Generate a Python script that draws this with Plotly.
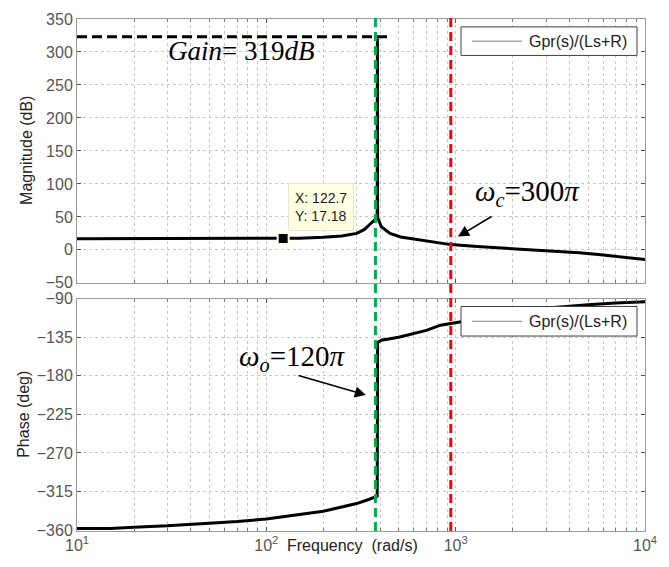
import numpy as np
import plotly.graph_objects as go
from plotly.subplots import make_subplots

# ---------------- data ----------------
mag_freq = [10, 20, 50, 100, 122.7, 150, 200, 250, 300, 330, 356, 385, 386, 387,
            405, 450, 512, 653, 800, 942, 1300, 1729, 2300, 3160, 4500, 5850, 7500, 10000]
mag_db = [17, 17, 17, 17.1, 17.18, 17.6, 19, 21, 25, 31, 40, 49, 321, 49,
          35, 25, 19.5, 14.5, 11, 8, 5, 3, 1, -1.5, -4.5, -7.5, -10.5, -14.5]

ph_freq = [10, 15, 20, 30, 50, 70, 100, 150, 200, 250, 300, 350, 385, 387,
           405, 500, 700, 832, 1000, 1500, 2000, 2800, 4000, 5000, 7000, 10000]
ph_deg = [-358, -358, -356.5, -355, -352, -350, -347, -342, -338, -333, -329, -324, -320.5, -141,
          -138.5, -135, -127, -121, -118, -111, -107, -101.5, -99, -97, -95, -93.5]

tip_x = [122.7]
tip_y = [17.18]

w_o = 120 * np.pi
w_c = 300 * np.pi
gain_line = 323

mag_ticks = [-50, 0, 50, 100, 150, 200, 250, 300, 350]
ph_ticks = [-360, -315, -270, -225, -180, -135, -90]
x_major = [10, 100, 1000, 10000]
x_major_text = ["10<sup>1</sup>", "10<sup>2</sup>", "10<sup>3</sup>", "10<sup>4</sup>"]
x_minor = [m * d for d in [10, 100, 1000] for m in range(2, 10)]

legend_text = "Gpr(s)/(Ls+R)"

# ---------------- figure ----------------
W, H = 669, 567
L, R, T, B = 77, 24, 11, 36
pw, ph = W - L - R, H - T - B

def px(xp):
    return (xp - L) / pw

def py(yp):
    return (H - B - yp) / ph

def fx(f):
    return (np.log10(f) - 1) / 3

fig = make_subplots(rows=2, cols=1, shared_xaxes=False, vertical_spacing=0.03)

fig.add_trace(go.Scatter(x=mag_freq, y=mag_db, mode="lines",
                         line=dict(color="black", width=3), showlegend=False,
                         hoverinfo="skip"), row=1, col=1)
fig.add_trace(go.Scatter(x=ph_freq, y=ph_deg, mode="lines",
                         line=dict(color="black", width=3), showlegend=False,
                         hoverinfo="skip"), row=2, col=1)
fig.add_trace(go.Scatter(x=tip_x, y=tip_y, mode="markers",
                         marker=dict(symbol="square", size=11, color="black",
                                     line=dict(color="#ffffe1", width=2)),
                         showlegend=False, hoverinfo="skip"), row=1, col=1)

tick_font = dict(family="Liberation Sans, Arial", size=16, color="#555555")
grid_common = dict(showgrid=True, gridcolor="#c8c8c8", griddash="dot", gridwidth=1,
                   showline=True, linecolor="#9a9a9a", linewidth=1, mirror="ticks",
                   ticks="inside", ticklen=4, tickcolor="#555555", zeroline=False)

xcommon = dict(type="log", range=[1, 4], tickmode="array", tickvals=x_major,
               ticktext=x_major_text,
               minor=dict(tickvals=x_minor, showgrid=True, gridcolor="#c8c8c8",
                          griddash="dot", ticks="inside", ticklen=3, tickcolor="#777777"),
               tickfont=tick_font, **grid_common)

fig.update_xaxes(**xcommon)
fig.update_xaxes(showticklabels=False, row=1, col=1)
fig.update_xaxes(showticklabels=True, row=2, col=1)

fig.update_yaxes(range=[-50, 350], tickmode="array", tickvals=mag_ticks,
                 tickfont=tick_font, row=1, col=1, **grid_common)
fig.update_yaxes(range=[-361, -90], tickmode="array", tickvals=ph_ticks,
                 tickfont=tick_font, row=2, col=1, **grid_common)

# domains to match reference layout
fig.update_layout(
    yaxis=dict(domain=[py(279), 1.0]),
    yaxis2=dict(domain=[0.0, py(295)]),
)

shapes = []
# vertical resonance / crossover lines spanning both plots
shapes.append(dict(type="line", xref="paper", yref="paper", x0=fx(w_o), x1=fx(w_o),
                   y0=0, y1=py(10), line=dict(color="rgb(0,176,80)", width=3, dash="9px,5px")))
shapes.append(dict(type="line", xref="paper", yref="paper", x0=fx(w_c), x1=fx(w_c),
                   y0=0, y1=py(10), line=dict(color="rgb(255,0,0)", width=3, dash="9px,5px")))
# gain dashed line
shapes.append(dict(type="line", xref="paper", yref="y", x0=0, x1=px(390),
                   y0=gain_line, y1=gain_line, line=dict(color="black", width=3, dash="10px,5px")))
# legend boxes
for (y0p, y1p) in [(19, 48), (303, 333)]:
    shapes.append(dict(type="rect", xref="paper", yref="paper", x0=px(461), x1=px(637),
                       y0=py(y1p), y1=py(y0p), fillcolor="white",
                       line=dict(color="#404040", width=1), layer="above"))
    ym = (y0p + y1p) / 2
    shapes.append(dict(type="line", xref="paper", yref="paper", x0=px(472), x1=px(522),
                       y0=py(ym), y1=py(ym), line=dict(color="#808080", width=1), layer="above"))
fig.update_layout(shapes=shapes)

ann = []
for (y0p, y1p) in [(19, 48), (303, 333)]:
    ym = (y0p + y1p) / 2
    ann.append(dict(text=legend_text, xref="paper", yref="paper", x=px(527), y=py(ym),
                    xanchor="left", yanchor="middle", showarrow=False,
                    font=dict(family="Liberation Sans, Arial", size=16, color="#222222")))

serif = "Liberation Serif, Times New Roman"
ann.append(dict(text="<i>Gain</i>= 319<i>dB</i>", xref="paper", yref="paper",
                x=px(241), y=py(43), xanchor="center", yanchor="middle", showarrow=False,
                font=dict(family=serif, size=27, color="black")))
ann.append(dict(text="<i>ω</i><sub><i>c</i></sub>=300<i>π</i>", xref="paper", yref="paper",
                x=px(527), y=py(188), xanchor="center", yanchor="middle", showarrow=False,
                font=dict(family=serif, size=29, color="black")))
ann.append(dict(text="<i>ω</i><sub><i>o</i></sub>=120<i>π</i>", xref="paper", yref="paper",
                x=px(292), y=py(355), xanchor="center", yanchor="middle", showarrow=False,
                font=dict(family=serif, size=29, color="black")))
# arrows
ann.append(dict(text="", xref="paper", yref="paper", x=px(458), y=py(232),
                ax=35, ay=-21, showarrow=True, arrowhead=2, arrowsize=1.4,
                arrowwidth=1.6, arrowcolor="black"))
ann.append(dict(text="", xref="paper", yref="paper", x=px(366), y=py(393),
                ax=-69, ay=-20, showarrow=True, arrowhead=2, arrowsize=1.4,
                arrowwidth=1.6, arrowcolor="black"))
# datatip
ann.append(dict(text="X: 122.7<br>Y: 17.18", xref="paper", yref="paper",
                x=px(288), y=py(178), xanchor="left", yanchor="top", showarrow=False,
                align="left", bgcolor="#ffffe1", bordercolor="#e6e6c8", borderwidth=1,
                borderpad=6,
                font=dict(family="Liberation Sans, Arial", size=14, color="#222222")))
# axis titles
ann.append(dict(text="Magnitude (dB)", xref="paper", yref="paper", x=px(27), y=py(145),
                textangle=-90, showarrow=False, xanchor="center", yanchor="middle",
                font=dict(family="Liberation Sans, Arial", size=16, color="#222222")))
ann.append(dict(text="Phase (deg)", xref="paper", yref="paper", x=px(24), y=py(413),
                textangle=-90, showarrow=False, xanchor="center", yanchor="middle",
                font=dict(family="Liberation Sans, Arial", size=16, color="#222222")))
ann.append(dict(text="Frequency  (rad/s)", xref="paper", yref="paper", x=px(352), y=py(546),
                showarrow=False, xanchor="center", yanchor="middle",
                font=dict(family="Liberation Sans, Arial", size=16, color="#222222")))
fig.update_layout(annotations=ann)

fig.update_layout(width=W, height=H, margin=dict(l=L, r=R, t=T, b=B),
                  paper_bgcolor="white", plot_bgcolor="white", showlegend=False)

fig.write_html("out.html")
